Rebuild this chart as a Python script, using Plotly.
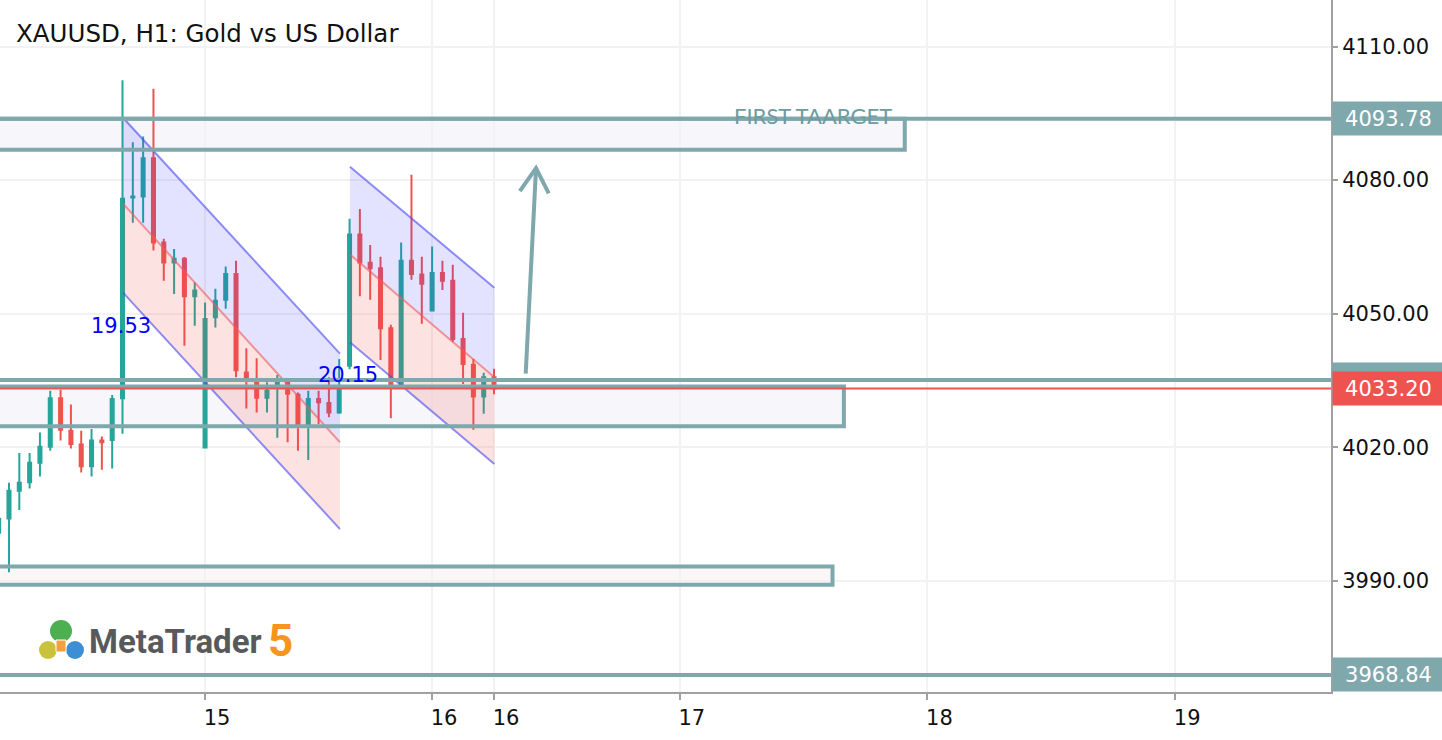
import plotly.graph_objects as go

# ---------------- data ----------------
candle_idx = list(range(-1, 48))
opens = [4000.8, 4004.0, 4010.2, 4012.1, 4016.5, 4020.1, 4031.0, 4023.7, 4020.6, 4015.7,
         4021.5, 4021.6, 4031.0, 4076.1, 4076.3, 4084.9, 4066.0, 4061.5, 4062.3, 4053.9,
         4019.9, 4049.2, 4053.1, 4058.9, 4036.8, 4034.6, 4031.1, 4034.0, 4034.6, 4031.8,
         4025.2, 4030.8, 4029.9, 4027.8, 4038.3, 4067.8, 4061.4, 4060.2, 4046.7, 4034.2,
         4061.9, 4058.8, 4050.7, 4059.1, 4057.4, 4044.3, 4038.5, 4031.4, 4035.7]
highs = [4005.0, 4012.0, 4018.7, 4018.7, 4023.3, 4032.7, 4032.9, 4029.6, 4023.7, 4024.1,
         4022.4, 4031.7, 4102.4, 4088.5, 4089.8, 4100.5, 4066.8, 4064.5, 4062.7, 4057.0,
         4052.5, 4055.6, 4060.6, 4061.9, 4042.2, 4040.0, 4034.6, 4036.2, 4034.8, 4032.3,
         4032.7, 4032.7, 4035.7, 4039.8, 4071.3, 4073.5, 4065.4, 4062.8, 4047.5, 4066.0,
         4081.2, 4062.8, 4065.1, 4061.9, 4061.0, 4050.2, 4039.8, 4036.7, 4037.6]
lows = [3999.0, 3991.9, 4005.9, 4010.7, 4013.4, 4019.2, 4021.5, 4019.7, 4014.3, 4013.4,
        4014.9, 4015.2, 4023.0, 4070.4, 4070.4, 4064.2, 4057.4, 4054.4, 4042.8, 4047.3,
        4019.7, 4046.9, 4051.1, 4035.7, 4028.7, 4027.8, 4027.8, 4022.1, 4021.1, 4019.2,
        4017.1, 4025.2, 4026.7, 4027.5, 4037.5, 4053.9, 4053.1, 4039.6, 4026.5, 4033.8,
        4057.6, 4047.7, 4050.7, 4055.3, 4043.6, 4034.2, 4023.9, 4027.5, 4031.9]
closes = [4003.9, 4010.2, 4012.0, 4016.5, 4020.1, 4031.0, 4023.9, 4020.7, 4015.7, 4021.5,
          4021.1, 4030.8, 4075.8, 4076.3, 4084.9, 4066.0, 4061.5, 4062.3, 4053.9, 4055.2,
          4048.8, 4052.9, 4058.9, 4037.3, 4035.2, 4031.1, 4032.7, 4034.4, 4032.0, 4025.1,
          4030.8, 4030.1, 4027.8, 4033.4, 4067.8, 4061.5, 4060.2, 4046.7, 4034.2, 4061.9,
          4058.9, 4056.7, 4059.1, 4057.4, 4044.3, 4038.7, 4031.4, 4035.7, 4033.2]

x_tick_vals = [19, 41, 47, 65, 89, 113]
x_tick_text = ["15", "16", "16", "17", "18", "19"]
y_tick_vals = [3990, 4020, 4050, 4080, 4110]
y_tick_text = ["3990.00", "4020.00", "4050.00", "4080.00", "4110.00"]

# drawing objects (index / price coordinates)
ch1_x = [11.05, 32.07]
ch1_upper = [4094.0, 4041.0]
ch1_mid = [4074.7, 4021.1]
ch1_lower = [4054.7, 4001.6]
ch2_x = [33.04, 47.03]
ch2_upper = [4083.0, 4055.8]
ch2_mid = [4063.3, 4035.7]
ch2_lower = [4043.55, 4016.2]

levels_full = [4093.78, 4035.06, 3968.84]          # full-width horizontal lines
current_price = 4033.20
boxes = [  # (top, bottom, right_index, fill)
    (4093.78, 4086.8, 86.8, "#F6F6FB"),
    (4033.6, 4024.7, 80.9, "#F6F6FB"),
    (3993.2, 3989.1, 79.8, "#FBF7F7"),
]
arrow_x = [50.07, 51.07, None, 49.5, 51.07, 52.3]
arrow_y = [4036.5, 4082.7, None, 4077.5, 4082.7, 4077.0]

X_RANGE = [-0.87, 128.1]
Y_RANGE = [3965.0, 4120.45]

TEAL = "rgb(127,168,173)"
GREEN = "#26A69A"
RED = "#EF5350"

fig = go.Figure()

fig.add_trace(go.Candlestick(
    x=candle_idx, open=opens, high=highs, low=lows, close=closes,
    increasing=dict(line=dict(color=GREEN, width=2), fillcolor=GREEN),
    decreasing=dict(line=dict(color=RED, width=2), fillcolor=RED),
    whiskerwidth=0, hoverinfo="skip", showlegend=False,
))

def channel(xs, up, mid, lo):
    fig.add_trace(go.Scatter(x=[xs[0], xs[1], xs[1], xs[0], xs[0]],
                             y=[up[0], up[1], mid[1], mid[0], up[0]],
                             fill="toself", fillcolor="rgba(60,60,255,0.14)",
                             line=dict(width=0), mode="lines", hoverinfo="skip", showlegend=False))
    fig.add_trace(go.Scatter(x=[xs[0], xs[1], xs[1], xs[0], xs[0]],
                             y=[mid[0], mid[1], lo[1], lo[0], mid[0]],
                             fill="toself", fillcolor="rgba(240,60,60,0.15)",
                             line=dict(width=0), mode="lines", hoverinfo="skip", showlegend=False))
    for ys, col in ((up, "rgba(70,70,240,0.6)"), (mid, "rgba(240,90,90,0.6)"), (lo, "rgba(70,70,240,0.6)")):
        fig.add_trace(go.Scatter(x=xs, y=ys, mode="lines", line=dict(color=col, width=2),
                                 hoverinfo="skip", showlegend=False))

channel(ch1_x, ch1_upper, ch1_mid, ch1_lower)
channel(ch2_x, ch2_upper, ch2_mid, ch2_lower)

fig.add_trace(go.Scatter(x=arrow_x, y=arrow_y, mode="lines",
                         line=dict(color=TEAL, width=4), hoverinfo="skip", showlegend=False))

shapes = []
for top, bot, xr, fill in boxes:
    shapes.append(dict(type="rect", xref="x", yref="y", x0=X_RANGE[0] - 2, x1=xr, y0=bot, y1=top,
                       fillcolor=fill, line=dict(width=0), layer="below"))
    shapes.append(dict(type="path", xref="x", yref="y",
                       path=f"M {X_RANGE[0]-2},{top} L {xr},{top} L {xr},{bot} L {X_RANGE[0]-2},{bot}",
                       line=dict(color=TEAL, width=4), layer="above"))
for lv in levels_full:
    shapes.append(dict(type="line", xref="paper", yref="y", x0=0, x1=1, y0=lv, y1=lv,
                       line=dict(color=TEAL, width=4), layer="above"))
shapes.append(dict(type="line", xref="paper", yref="y", x0=0, x1=1, y0=current_price, y1=current_price,
                   line=dict(color=RED, width=2), layer="above"))

# pixel helpers for overlay decorations
PW, PH = 1331.0, 692.0
def PX(px):
    return px / PW
def PY(py):
    return (PH - py) / PH

# teal price tag of the 4035 line, mostly hidden behind the red current-price tag
shapes.append(dict(type="rect", xref="paper", yref="y", x0=1.0 + PX(1), x1=1.0 + PX(111),
                   y0=4031.0, y1=4039.0, fillcolor=TEAL, line=dict(width=0), layer="above"))

# MetaTrader icon approximation
for cx, cy, r, col in ((48, 650, 9, "#C8C23C"), (75, 650, 9, "#3C8FD2"), (61, 631, 11, "#4CAF50")):
    shapes.append(dict(type="circle", xref="paper", yref="paper",
                       x0=PX(cx - r), x1=PX(cx + r), y0=PY(cy + r), y1=PY(cy - r),
                       fillcolor=col, line=dict(width=0), layer="above"))
shapes.append(dict(type="rect", xref="paper", yref="paper", x0=PX(56), x1=PX(66), y0=PY(652), y1=PY(640),
                   fillcolor="#F2A23A", line=dict(color="white", width=1), layer="above"))

annotations = [
    dict(text="XAUUSD, H1: Gold vs US Dollar", xref="paper", yref="paper", x=PX(14), y=PY(33),
         xanchor="left", yanchor="middle", showarrow=False,
         font=dict(family="DejaVu Sans", size=24.5, color="#111111")),
    dict(text="FIRST TAARGET", xref="x", yref="y", x=(813 - 9) / 10.32, y=4094.4,
         xanchor="center", yanchor="middle", showarrow=False,
         font=dict(family="Lato", size=22, color="rgb(112,155,160)")),
    dict(text="19.53", xref="x", yref="y", x=13.95, y=4047.3, xanchor="right", yanchor="middle",
         showarrow=False, font=dict(family="DejaVu Sans", size=21, color="#0000FF")),
    dict(text="20.15", xref="x", yref="y", x=35.95, y=4036.3, xanchor="right", yanchor="middle",
         showarrow=False, font=dict(family="DejaVu Sans", size=21, color="#0000FF")),
    dict(text="<b>MetaTrader</b>", xref="paper", yref="paper", x=PX(87), y=PY(641),
         xanchor="left", yanchor="middle", showarrow=False,
         font=dict(family="Roboto", size=33, color="#58595B")),
    dict(text="<b>5</b>", xref="paper", yref="paper", x=PX(266), y=PY(641),
         xanchor="left", yanchor="middle", showarrow=False,
         font=dict(family="Roboto", size=44, color="#F7941D")),
]

badges = [(4093.78, "4093.78", TEAL), (current_price, "4033.20", RED), (3968.84, "3968.84", TEAL)]
for val, txt, col in badges:
    annotations.append(dict(text=txt, xref="paper", yref="y", x=1.0, y=val, xanchor="left", yanchor="middle",
                            showarrow=False, bgcolor=col, width=109, height=31, align="center",
                            xshift=1, font=dict(family="DejaVu Sans", size=21, color="white")))

fig.update_layout(
    width=1442, height=740, autosize=False,
    margin=dict(l=0, r=111, t=0, b=48, pad=0),
    paper_bgcolor="white", plot_bgcolor="white",
    showlegend=False, boxgap=0.58,
    shapes=shapes, annotations=annotations,
    xaxis=dict(range=X_RANGE, tickvals=x_tick_vals, ticktext=x_tick_text,
               showgrid=True, gridcolor="#F2F2F2", gridwidth=2, zeroline=False,
               showline=True, linecolor="#A0A0A0", linewidth=2,
               ticks="outside", ticklen=6, tickwidth=2, tickcolor="#A0A0A0",
               tickfont=dict(family="DejaVu Sans", size=21, color="#111111"),
               ticklabelshift=12, rangeslider=dict(visible=False), fixedrange=True),
    yaxis=dict(range=Y_RANGE, side="right", tickvals=y_tick_vals, ticktext=y_tick_text,
               showgrid=True, gridcolor="#F2F2F2", gridwidth=2, zeroline=False,
               showline=True, linecolor="#A0A0A0", linewidth=2,
               ticks="outside", ticklen=5, tickwidth=2, tickcolor="#A0A0A0",
               tickfont=dict(family="DejaVu Sans", size=21, color="#111111"), fixedrange=True),
)

fig.write_html("out.html", config={"displayModeBar": False})
